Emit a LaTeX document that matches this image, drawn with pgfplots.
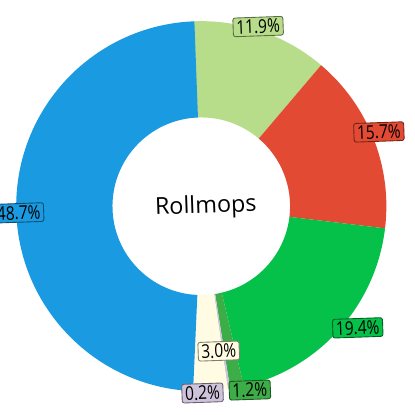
\documentclass[border=0pt]{standalone}
\usepackage{pgfplots}
\pgfplotsset{compat=1.18}
\usepackage{pgfplotstable}
\usepackage{fontspec}
\setmainfont{Open Sans}

\definecolor{cLG}{HTML}{B8DD8A}
\definecolor{cRed}{HTML}{E24A33}
\definecolor{cGreen}{HTML}{05C149}
\definecolor{cDG}{HTML}{3DAE47}
\definecolor{cLav}{HTML}{CFC3DC}
\definecolor{cCream}{HTML}{FFFCE3}
\definecolor{cBlue}{HTML}{1A9AE0}

\pgfplotstableread{
value col lab lx ly
11.9 cLG 11.9 1.22 4.36
15.7 cRed 15.7 4.13 1.82
19.4 cGreen 19.4 3.62 -2.90
1.2 cDG 1.2 1.02 -4.40
0.2 cLav 0.2 -0.12 -4.47
3.0 cCream 3.0 0.27 -3.46
48.7 cBlue 48.7 -4.55 -0.13
}\slices

\begin{document}
\begin{tikzpicture}
\begin{axis}[x=1cm,y=1cm,xmin=-5,xmax=5,ymin=-5,ymax=5,hide axis,clip=true]
\def\cx{-0.15}
\def\cy{0.03}
\def\R{4.46}
\def\r{2.14}
\pgfplotstablegetrowsof{\slices}
\pgfmathtruncatemacro\nrows{\pgfplotsretval-1}
\global\def\startang{92.5}
\foreach \i in {0,...,\nrows}{
  \pgfplotstablegetelem{\i}{value}\of{\slices}\let\v\pgfplotsretval
  \pgfplotstablegetelem{\i}{col}\of{\slices}\let\c\pgfplotsretval
  \pgfmathsetmacro\aone{\startang}
  \pgfmathsetmacro\atwo{\startang-3.6*\v}
  \pgfmathsetmacro\xa{\cx+\R*cos(\aone)}
  \pgfmathsetmacro\ya{\cy+\R*sin(\aone)}
  \pgfmathsetmacro\xb{\cx+\r*cos(\atwo)}
  \pgfmathsetmacro\yb{\cy+\r*sin(\atwo)}
  \edef\temp{\noexpand\fill[\c] (axis cs:\xa,\ya) arc[start angle=\aone, end angle=\atwo, radius=\R cm] -- (axis cs:\xb,\yb) arc[start angle=\atwo, end angle=\aone, radius=\r cm] -- cycle;}
  \temp
  \xdef\startang{\atwo}
}
\foreach \i in {0,...,\nrows}{
  \pgfplotstablegetelem{\i}{col}\of{\slices}\let\c\pgfplotsretval
  \pgfplotstablegetelem{\i}{lab}\of{\slices}\let\l\pgfplotsretval
  \pgfplotstablegetelem{\i}{lx}\of{\slices}\let\lx\pgfplotsretval
  \pgfplotstablegetelem{\i}{ly}\of{\slices}\let\ly\pgfplotsretval
  \edef\temp{\noexpand\node[draw=\c!50!black, fill=\c, rounded corners=1.5pt, inner xsep=2.2pt, inner ysep=1.6pt, line width=0.6pt, rotate=2, font=\noexpand\fontsize{13}{15}\noexpand\selectfont] at (axis cs:\lx,\ly) {\noexpand\scalebox{0.82}[1]{\l\noexpand\%}};}
  \temp
}
\node[rotate=2, font=\fontsize{16}{19}\selectfont] at (axis cs:-0.04,0.01) {Rollmops};
\end{axis}
\pgfresetboundingbox
\path[use as bounding box] (current axis.south west) rectangle (current axis.north east);
\end{tikzpicture}
\end{document}
